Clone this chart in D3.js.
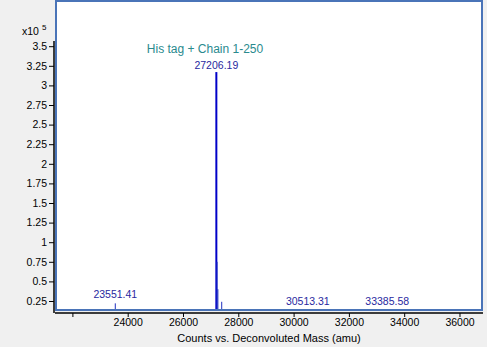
<!DOCTYPE html>
<html><head><meta charset="utf-8">
<script src="https://cdn.jsdelivr.net/npm/d3@7"></script>
<style>
html,body{margin:0;padding:0;background:#f0f0f0;}
svg{display:block;font-family:"Liberation Sans",Arial,sans-serif;}
</style></head><body>
<svg id="c" width="487" height="347"></svg>
<script>
// Data (intensity in units of 10^5 counts)
const peakMass = [23551.41, 27206.19, 27232, 27262, 27400, 30513.31, 33385.58];
const peakIntensity = [0.22, 3.17, 0.75, 0.40, 0.24, 0.12, 0.10];
const labelMass = [23551.41, 27206.19, 30513.31, 33385.58];
const labelText = ["23551.41", "27206.19", "30513.31", "33385.58"];
const xTicks = [22000, 24000, 26000, 28000, 30000, 32000, 34000, 36000];
const xTickLabels = ["", "24000", "26000", "28000", "30000", "32000", "34000", "36000"];
const yTicks = [0.25, 0.5, 0.75, 1, 1.25, 1.5, 1.75, 2, 2.25, 2.5, 2.75, 3, 3.25, 3.5];
const yTickLabels = ["0.25","0.5","0.75","1","1.25","1.5","1.75","2","2.25","2.5","2.75","3","3.25","3.5"];
const annotation = "His tag + Chain 1-250";
const xTitle = "Counts vs. Deconvoluted Mass (amu)";

const svg = d3.select("#c");
const L = 55, R = 483, T = 0, B = 313;
const x = d3.scaleLinear().domain([21371, 36850]).range([L, R]);
const y = d3.scaleLinear().domain([0, 0.25]).range([320.6, 301]);

// plot area
svg.append("rect").attr("x", L + 1).attr("y", T + 1).attr("width", R - L - 2).attr("height", 309 - T)
  .attr("fill", "#fff").attr("stroke", "#4a74b8").attr("stroke-width", 2);

svg.append("clipPath").attr("id", "pc").append("rect")
  .attr("x", L + 2).attr("y", T + 2).attr("width", R - L - 4).attr("height", 307);

const g = svg.append("g").attr("clip-path", "url(#pc)");
g.selectAll("line.pk").data(peakMass).join("line")
  .attr("x1", d => x(d)).attr("x2", d => x(d))
  .attr("y1", y(0)).attr("y2", (d, i) => y(peakIntensity[i]))
  .attr("stroke", (d, i) => i === 1 ? "#0000c8" : "#2030c0")
  .attr("stroke-width", (d, i) => i === 1 ? 2 : 1);

// peak labels
svg.selectAll("text.pl").data(labelMass).join("text")
  .attr("x", d => x(d)).attr("y", (d, i) => i === 1 ? 69 : (i === 0 ? 298 : 305))
  .attr("text-anchor", "middle").attr("font-size", 10.5).attr("fill", "#2828a0")
  .text((d, i) => labelText[i]);

svg.append("text").attr("x", 205).attr("y", 53).attr("text-anchor", "middle")
  .attr("font-size", 12).attr("fill", "#2a8a8e").text(annotation);

// axes
const yAxis = d3.axisLeft(y).tickValues(yTicks).tickSize(5).tickPadding(2)
  .tickFormat((d, i) => yTickLabels[i]);
const ya = svg.append("g").attr("transform", `translate(${L - 1},0)`).call(yAxis);
ya.select(".domain").attr("d", `M0,41V${B}`).attr("stroke", "#000").attr("stroke-width", 1.5);
ya.selectAll("text").attr("font-size", 10.5).attr("fill", "#000").attr("font-family", "Liberation Sans, Arial, sans-serif");

const xAxis = d3.axisBottom(x).tickValues(xTicks).tickSize(4).tickPadding(2)
  .tickFormat((d, i) => xTickLabels[i]);
const xa = svg.append("g").attr("transform", `translate(0,${B})`).call(xAxis);
xa.select(".domain").attr("d", `M${L},0H${R}`).attr("stroke", "#000").attr("stroke-width", 1.5);
xa.selectAll("text").attr("font-size", 10.5).attr("fill", "#000").attr("font-family", "Liberation Sans, Arial, sans-serif");

svg.append("text").attr("x", 269).attr("y", 342).attr("text-anchor", "middle")
  .attr("font-size", 11).attr("fill", "#000").text(xTitle);

const ylab = svg.append("text").attr("x", 22).attr("y", 35).attr("font-size", 10.5).attr("fill", "#000");
ylab.append("tspan").text("x10");
ylab.append("tspan").attr("dx", 3).attr("dy", -5).attr("font-size", 8).text("5");
</script>
</body></html>
